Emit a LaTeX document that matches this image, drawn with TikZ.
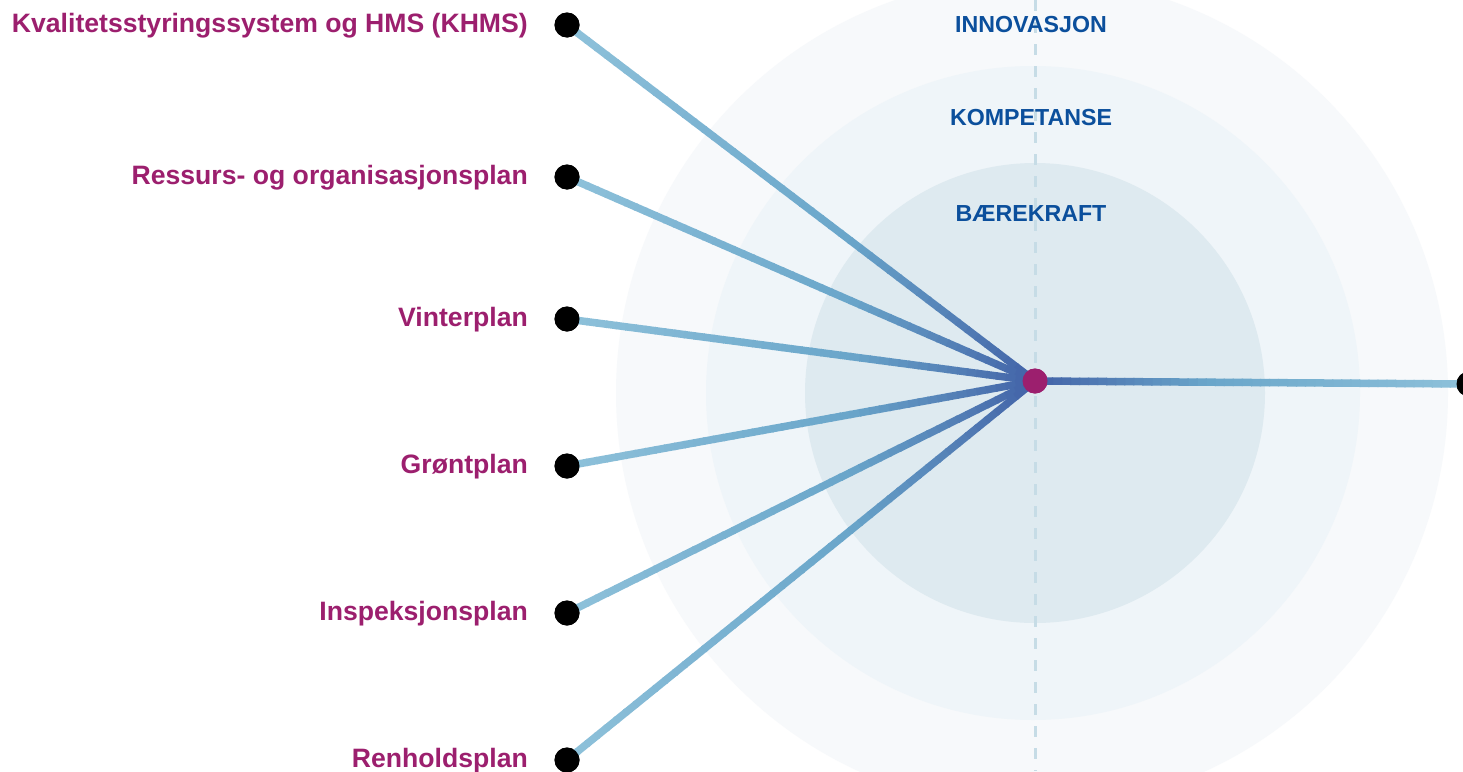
\documentclass[tikz,border=0pt]{standalone}
\usepackage{fontspec}
\setmainfont{Liberation Sans}
\usetikzlibrary{calc}
\definecolor{ringA}{HTML}{F7F9FB}
\definecolor{ringB}{HTML}{EFF5F9}
\definecolor{ringC}{HTML}{DEEAF0}
\definecolor{dashc}{HTML}{C6DCE6}
\definecolor{lb}{HTML}{8EC1DA}
\definecolor{mb}{HTML}{6AA6CA}
\definecolor{db}{HTML}{4262A7}
\definecolor{plum}{HTML}{9C1F6E}
\definecolor{navy}{HTML}{0B4F9C}
\newcommand\gradline[2]{%
  \foreach \i in {0,...,47}{%
    \pgfmathsetmacro\ta{\i/48}%
    \pgfmathsetmacro\tb{min(1,(\i+1)/48+0.003)}%
    \pgfmathsetmacro\tm{(\i+0.5)/48}%
    \ifdim\tm pt<0.6pt
      \pgfmathsetmacro\pc{100*(1-\tm/0.6)}%
      \colorlet{segc}{lb!\pc!mb}%
    \else
      \pgfmathsetmacro\pc{100*(1-(\tm-0.6)/0.4)}%
      \colorlet{segc}{mb!\pc!db}%
    \fi
    \draw[conn, color=segc] ($(#1)!\ta!(#2)$) -- ($(#1)!\tb!(#2)$);
  }%
}
\begin{document}
\begin{tikzpicture}[x=1pt,y=-1pt,
  conn/.style={line width=7.5pt, line cap=butt},
  dotnode/.style={circle, fill=black, inner sep=0pt, minimum size=25pt},
  hubnode/.style={circle, fill=plum, inner sep=0pt, minimum size=25pt},
  plan/.style={anchor=base east, text=plum, font=\fontsize{26.6}{30}\selectfont\bfseries, inner sep=0pt},
  ring/.style={anchor=center, text=navy, font=\fontsize{23.2}{26}\selectfont\bfseries, inner sep=0pt}]
\useasboundingbox (0,0) rectangle (1463,771);
\fill[white] (0,0) rectangle (1463,771);
% rings
\fill[ringA] (1032,393) circle (416);
\fill[ringB] (1033,393) circle (327);
\fill[ringC] (1035,393) circle (230);
\coordinate (dtop) at (1035,0);
\coordinate (dbot) at (1035,771);
\draw[dashc, line width=3pt, dash pattern=on 11pt off 11pt] (dtop) -- (dbot);
% nodes
\node[hubnode] (hub) at (1035,381) {};
\node[dotnode] (d1) at (567,25) {};
\node[dotnode] (d2) at (567,177) {};
\node[dotnode] (d3) at (567,319) {};
\node[dotnode] (d4) at (567,466) {};
\node[dotnode] (d5) at (567,613) {};
\node[dotnode] (d6) at (567,760) {};
\node[dotnode] (dr) at (1469,384) {};
% connectors
\gradline{d1}{hub}
\gradline{d2}{hub}
\gradline{d3}{hub}
\gradline{d4}{hub}
\gradline{d5}{hub}
\gradline{d6}{hub}
\gradline{dr}{hub}
% redraw nodes on top
\node[hubnode] at (hub) {};
\foreach \n in {d1,d2,d3,d4,d5,d6,dr} \node[dotnode] at (\n) {};
% labels
\node[plan] (l1) at (528,32) {Kvalitetsstyringssystem og HMS (KHMS)};
\node[plan] (l2) at (528,184) {Ressurs- og organisasjonsplan};
\node[plan] (l3) at (528,326) {Vinterplan};
\node[plan] (l4) at (528,473) {Grøntplan};
\node[plan] (l5) at (528,620) {Inspeksjonsplan};
\node[plan] (l6) at (528,767) {Renholdsplan};
\node[ring] (r1) at (1031,25) {INNOVASJON};
\node[ring] (r2) at (1031,118) {KOMPETANSE};
\node[ring] (r3) at (1031,214) {BÆREKRAFT};
\end{tikzpicture}
\end{document}
